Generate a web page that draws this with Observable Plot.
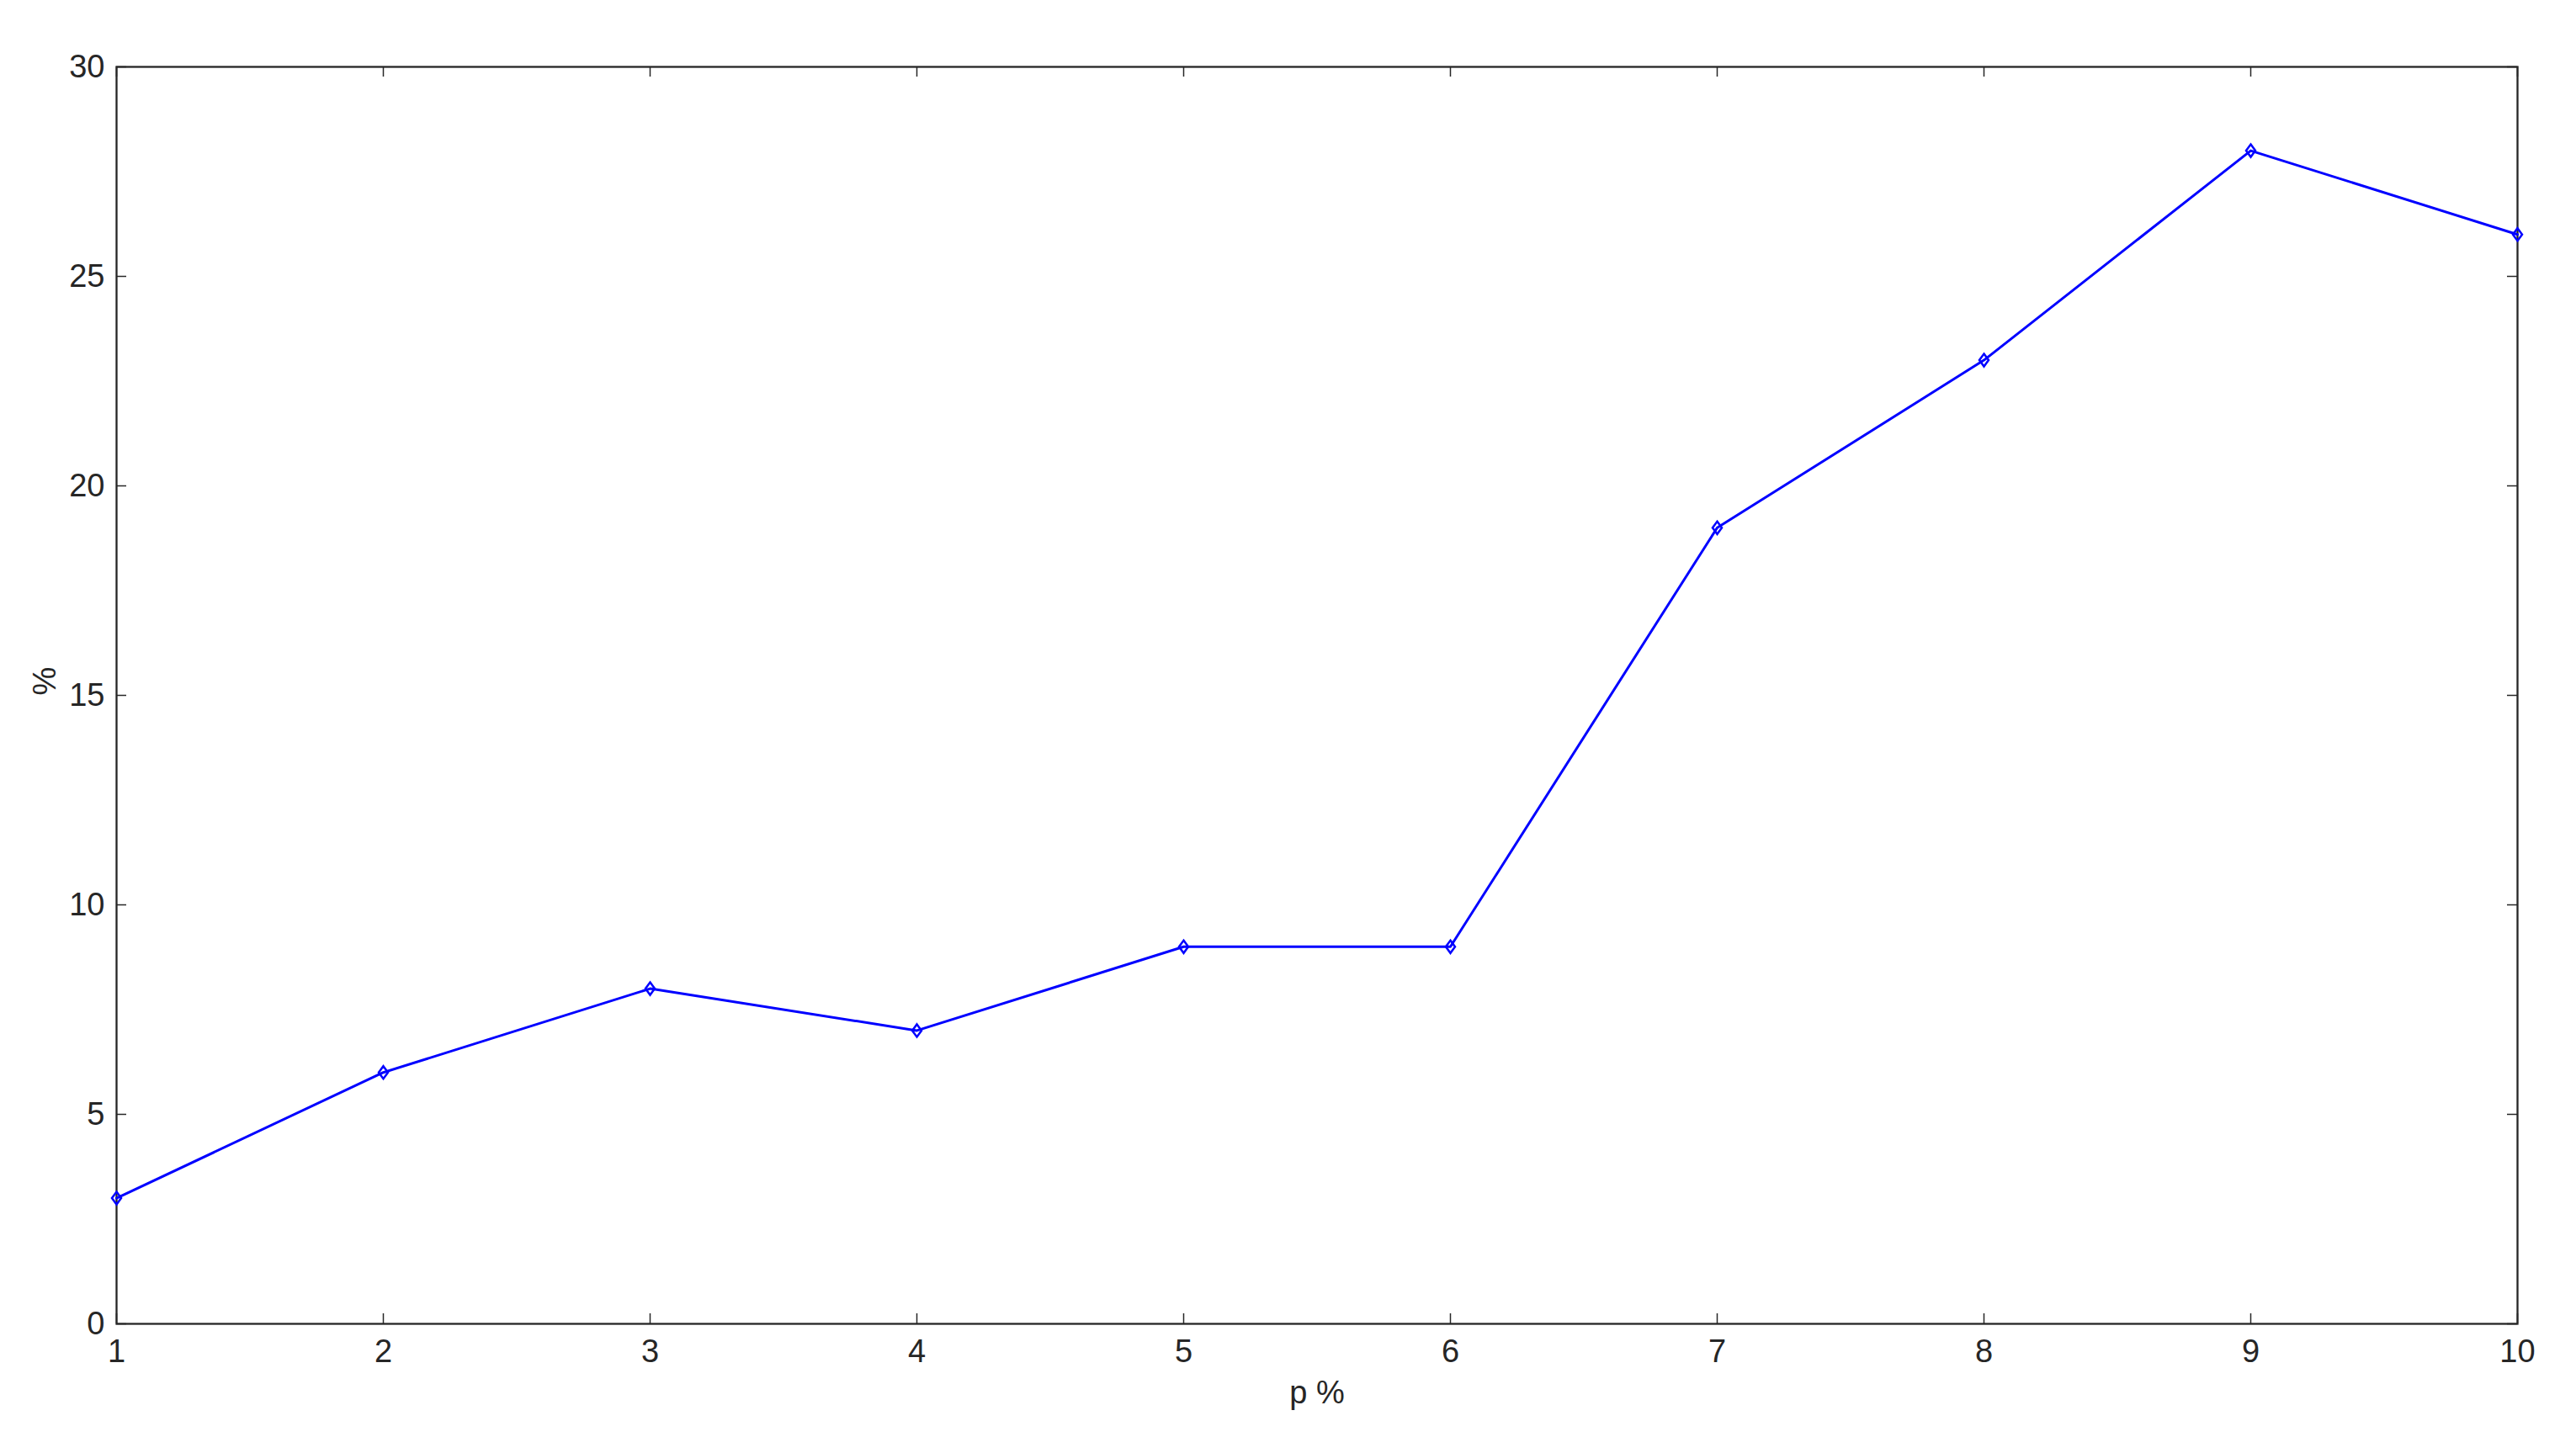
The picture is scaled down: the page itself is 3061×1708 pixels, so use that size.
<!DOCTYPE html>
<html>
<head>
<meta charset="utf-8">
<script src="https://cdn.jsdelivr.net/npm/d3@7"></script>
<script src="https://cdn.jsdelivr.net/npm/@observablehq/plot@0.6"></script>
<style>
  html, body { margin: 0; padding: 0; background: #fff; }
  svg { display: block; }
</style>
</head>
<body>
<div id="chart"></div>
<script>
// Data
const xValues = [1, 2, 3, 4, 5, 6, 7, 8, 9, 10];
const yValues = [3, 6, 8, 7, 9, 9, 19, 23, 28, 26];
const xTicks = [1, 2, 3, 4, 5, 6, 7, 8, 9, 10];
const yTicks = [0, 5, 10, 15, 20, 25, 30];
const xLabel = "p %";
const yLabel = "%";

const data = xValues.map((x, i) => ({x, y: yValues[i]}));

const W = 3061, H = 1708;
const mL = 138, mR = 70, mT = 79, mB = 135;
const innerW = W - mL - mR, innerH = H - mT - mB;
const tickLen = 12;
const axisColor = "#262626";
const font = "Liberation Sans, Arial, Helvetica, sans-serif";

// MATLAB-like elongated diamond
const diamond = {
  draw(context, size) {
    const s = Math.sqrt(size / Math.PI);
    const w = s * 1.1, h = s * 1.5;
    context.moveTo(0, -h);
    context.lineTo(w, 0);
    context.lineTo(0, h);
    context.lineTo(-w, 0);
    context.closePath();
  }
};

const fmt = d => String(d);

const chart = Plot.plot({
  width: W,
  height: H,
  marginLeft: mL,
  marginRight: mR,
  marginTop: mT,
  marginBottom: mB,
  style: {fontFamily: font, fontSize: "38px", background: "#fff", color: axisColor},
  x: {domain: [1, 10], ticks: xTicks},
  y: {domain: [0, 30], ticks: yTicks},
  marks: [
    // tick labels
    Plot.axisX(xTicks, {tickSize: 0, tickPadding: 19, tickFormat: fmt, label: null, fontSize: 38, fill: axisColor}),
    Plot.axisY(yTicks, {tickSize: 0, tickPadding: 14, tickFormat: fmt, label: null, fontSize: 38, fill: axisColor}),
    // inward ticks on all four sides
    Plot.ruleX(xTicks, {x: d => d, insetTop: innerH - tickLen, stroke: axisColor, strokeWidth: 1.5}),
    Plot.ruleX(xTicks, {x: d => d, insetBottom: innerH - tickLen, stroke: axisColor, strokeWidth: 1.5}),
    Plot.ruleY(yTicks, {y: d => d, insetRight: innerW - tickLen, stroke: axisColor, strokeWidth: 1.5}),
    Plot.ruleY(yTicks, {y: d => d, insetLeft: innerW - tickLen, stroke: axisColor, strokeWidth: 1.5}),
    // frame
    Plot.frame({stroke: axisColor, strokeWidth: 2.3}),
    // axis labels
    Plot.text([xLabel], {frameAnchor: "bottom", lineAnchor: "bottom", dy: 94, text: d => d, fontSize: 38, fill: axisColor}),
    Plot.text([yLabel], {frameAnchor: "left", dx: -85, rotate: -90, text: d => d, fontSize: 38, fill: axisColor}),
    // data
    Plot.line(data, {x: "x", y: "y", stroke: "#0000ff", strokeWidth: 3}),
    Plot.dot(data, {x: "x", y: "y", symbol: diamond, r: 5, stroke: "#0000ff", strokeWidth: 2.5, fill: "none"})
  ]
});

document.getElementById("chart").appendChild(chart);
</script>
</body>
</html>
